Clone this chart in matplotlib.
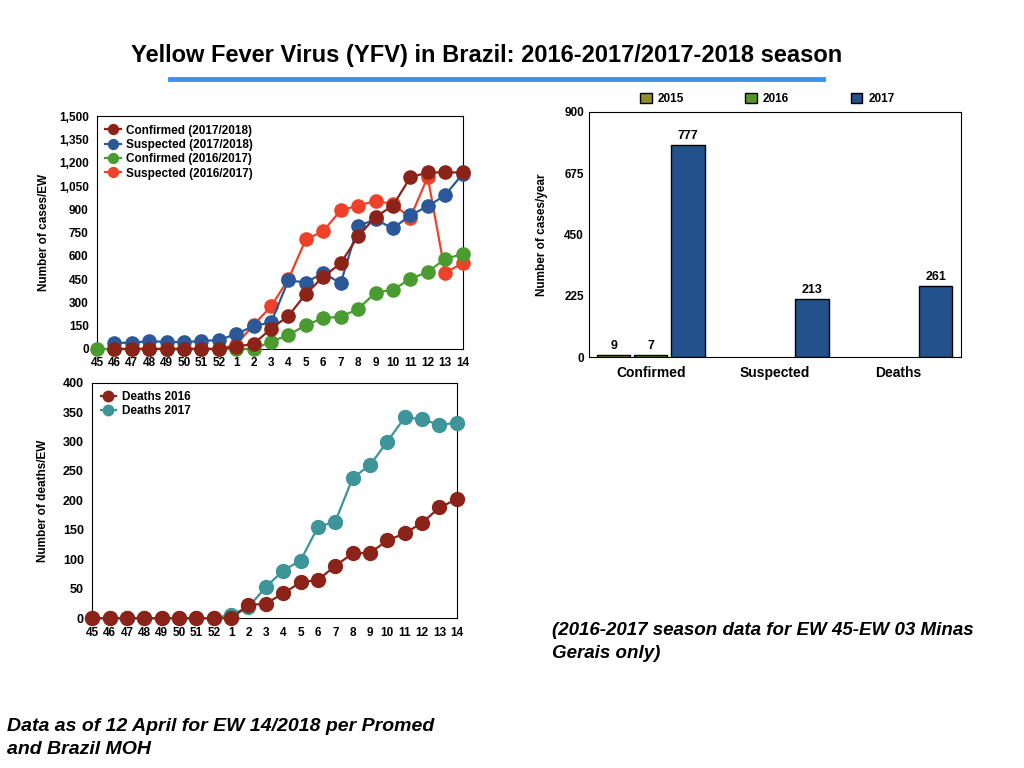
import numpy as np
import matplotlib
matplotlib.use("Agg")
import matplotlib.pyplot as plt

plt.rcParams['font.family'] = ['Liberation Sans', 'DejaVu Sans']
plt.rcParams['font.weight'] = 'bold'

# ------------------------------------------------------------------------------------------
# data

epi_weeks = ["45", "46", "47", "48", "49", "50", "51", "52", "1", "2", "3", "4", "5",
             "6", "7", "8", "9", "10", "11", "12", "13", "14"]

nan = np.nan
confirmed_1718 = [nan, 0, 0, 0, 0, 0, 0, 0, 14, 34, 130, 214, 355, 466, 552, 727, 851,
                  924, 1106, 1138, 1138, 1138]
suspected_1718 = [nan, 40, 40, 51, 45, 45, 51, 58, 96, 148, 171, 443, 428, 490, 424, 794,
                  835, 777, 862, 920, 991, 1128]
confirmed_1617 = [0, 0, 0, 0, 0, 0, 0, 0, 0, 0, 47, 90, 154, 199, 208, 257, 364, 381,
                  452, 497, 580, 612]
suspected_1617 = [nan, 0, 0, 0, 0, 0, 0, 0, 28, 156, 274, 451, 706, 760, 894, 924, 954,
                  935, 847, 1108, 492, 552]

deaths_2016 = [0, 0, 0, 0, 0, 0, 0, 0, 0, 22, 25, 42, 61, 65, 89, 110, 111, 132, 144,
               162, 188, 202]
deaths_2017 = [0, 0, 0, 0, 0, 0, 0, 0, 6, 19, 53, 81, 98, 155, 164, 238, 260, 300, 341,
               338, 328, 332]

bar_categories = ["Confirmed", "Suspected", "Deaths"]
bar_years = ["2015", "2016", "2017"]
# no bar shown for 2015/2016 suspected and deaths
bar_values = {
    "2015": [9, nan, nan],
    "2016": [7, nan, nan],
    "2017": [777, 213, 261],
}

# colours
c_darkred = "#8c2318"
c_blue = "#2b5898"
c_green = "#4a9b30"
c_orange = "#ee4129"
c_teal = "#3d9599"
bar_colors = {"2015": "#8f8f2a", "2016": "#55962a", "2017": "#22518c"}

fig = plt.figure(figsize=(10.24, 7.68), dpi=100)

# ------------------------------------------------------------------------------------------
# title + blue rule
fig.text(0.475, 0.928, "Yellow Fever Virus (YFV) in Brazil: 2016-2017/2017-2018 season",
         ha="center", va="center", fontsize=17, fontweight="bold")
fig.add_artist(plt.Line2D([0.166, 0.804], [0.897, 0.897], color="#3d8ff0", linewidth=3.5))

x = np.arange(len(epi_weeks))

# ------------------------------------------------------------------------------------------
# cases per EW
ax1 = fig.add_axes([0.0947, 0.5456, 0.357, 0.303])
series = [
    (confirmed_1718, c_darkred, "Confirmed (2017/2018)", 6),
    (suspected_1718, c_blue, "Suspected (2017/2018)", 5),
    (confirmed_1617, c_green, "Confirmed (2016/2017)", 4),
    (suspected_1617, c_orange, "Suspected (2016/2017)", 3),
]
for vals, col, lab, z in series:
    ax1.plot(x, vals, "-o", color=col, markersize=9.5, linewidth=1.6, label=lab,
             clip_on=False, zorder=z)
ax1.set_xlim(0, len(epi_weeks) - 1)
ax1.set_ylim(0, 1500)
ax1.set_yticks(np.arange(0, 1501, 150))
ax1.set_yticklabels([f"{v:,}" for v in range(0, 1501, 150)])
ax1.set_xticks(x)
ax1.set_xticklabels(epi_weeks)
ax1.tick_params(length=0, labelsize=8.5, pad=6)
ax1.set_ylabel("Number of cases/EW", fontsize=8.5, fontweight="bold", labelpad=6)
ax1.legend(loc="upper left", frameon=False, fontsize=8.5, handlelength=1.3,
           handletextpad=0.5, labelspacing=0.2, borderaxespad=0.3, markerscale=0.75)

# ------------------------------------------------------------------------------------------
# deaths per EW
ax2 = fig.add_axes([0.0901, 0.195, 0.356, 0.3068])
ax2.plot(x, deaths_2016, "-o", color=c_darkred, markersize=10, linewidth=1.6,
         label="Deaths 2016", clip_on=False, zorder=5)
ax2.plot(x, deaths_2017, "-o", color=c_teal, markersize=10, linewidth=1.6,
         label="Deaths 2017", clip_on=False, zorder=4)
ax2.set_xlim(0, len(epi_weeks) - 1)
ax2.set_ylim(0, 400)
ax2.set_yticks(np.arange(0, 401, 50))
ax2.set_xticks(x)
ax2.set_xticklabels(epi_weeks)
ax2.tick_params(length=0, labelsize=8.5, pad=6)
ax2.tick_params(axis="y", labelsize=9)
ax2.set_ylabel("Number of deaths/EW", fontsize=8.5, fontweight="bold", labelpad=10)
ax2.legend(loc="upper left", frameon=False, fontsize=8.5, handlelength=1.3,
           handletextpad=0.5, labelspacing=0.2, borderaxespad=0.3, markerscale=0.75)

# ------------------------------------------------------------------------------------------
# cases per year, bars
ax3 = fig.add_axes([0.575, 0.5348, 0.363, 0.3194])
bx = np.arange(len(bar_categories))
width = 0.27
step = 0.30
for i, yr in enumerate(bar_years):
    vals = bar_values[yr]
    bars = ax3.bar(bx + (i - 1) * step, vals, width, color=bar_colors[yr],
                   edgecolor="black", linewidth=1.0, label=yr)
    for rect, v in zip(bars, vals):
        if np.isfinite(v):
            ax3.text(rect.get_x() + rect.get_width() / 2, v + 12, str(v),
                     ha="center", va="bottom", fontsize=9, fontweight="bold")
ax3.set_xlim(-0.5, 2.5)
ax3.set_ylim(0, 900)
ax3.set_yticks([0, 225, 450, 675, 900])
ax3.set_xticks(bx)
ax3.set_xticklabels(bar_categories)
ax3.tick_params(length=0, labelsize=8.5)
ax3.tick_params(axis="x", labelsize=10, pad=6)
ax3.set_ylabel("Number of cases/year", fontsize=8.5, fontweight="bold", labelpad=12)
ax3.legend(loc="lower center", bbox_to_anchor=(0.48, 1.0), ncol=3, frameon=False,
           fontsize=8.5, handlelength=1.0, handleheight=1.0, handletextpad=0.5,
           columnspacing=5.2, borderaxespad=0.2)

# ------------------------------------------------------------------------------------------
# notes
fig.text(0.539, 0.164, "(2016-2017 season data for EW 45-EW 03 Minas\nGerais only)",
         ha="left", va="center", fontsize=13.5, fontweight="bold", style="italic",
         linespacing=1.45)
fig.text(0.007, 0.039, "Data as of 12 April for EW 14/2018 per Promed\nand Brazil MOH",
         ha="left", va="center", fontsize=14, fontweight="bold", style="italic",
         linespacing=1.4)

plt.savefig("out.png", dpi=100)
